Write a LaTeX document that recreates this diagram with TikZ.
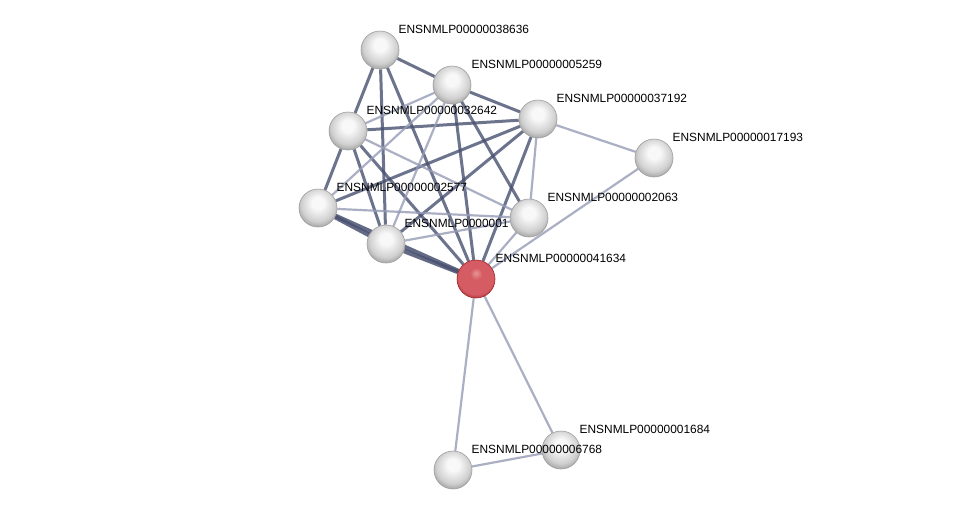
\documentclass[tikz,border=0pt]{standalone}
\usepackage{fontspec}
\setmainfont{Liberation Sans}
\usetikzlibrary{backgrounds}

\definecolor{edgedark}{RGB}{72,80,112}
\definecolor{edgelight}{RGB}{150,156,182}
\definecolor{ballhi}{RGB}{248,248,248}
\definecolor{ballmid}{RGB}{208,208,208}
\definecolor{ballrim}{RGB}{150,150,150}
\definecolor{redhi}{RGB}{232,150,152}
\definecolor{redmid}{RGB}{212,92,98}
\definecolor{redrim}{RGB}{160,35,40}

\pgfdeclareradialshading{protball}{\pgfpoint{0bp}{8bp}}{%
  color(0bp)=(ballhi); color(8bp)=(ballhi); color(22bp)=(ballmid);
  color(31bp)=(ballrim); color(50bp)=(ballrim)}
\pgfdeclareradialshading{queryball}{\pgfpoint{0bp}{8bp}}{%
  color(0bp)=(redhi); color(8bp)=(redmid); color(24bp)=(redmid);
  color(32bp)=(redrim); color(50bp)=(redrim)}

\begin{document}
\begin{tikzpicture}[x=1pt, y=-1pt,
    prot/.style={circle, minimum size=38pt, inner sep=0pt, shading=protball, draw=gray!75, line width=0.6pt},
    query/.style={circle, minimum size=38pt, inner sep=0pt, shading=queryball, draw=redrim, line width=0.6pt},
    lbl/.style={anchor=base west, inner sep=0.5pt, font=\fontsize{11.9}{14}\selectfont},
    strong/.style={draw=edgedark, line width=4.5pt, opacity=0.85},
    mid/.style={draw=edgedark, line width=3pt, opacity=0.8},
    weak/.style={draw=edgelight, line width=2.2pt, opacity=0.8}]

  \useasboundingbox (0,0) rectangle (976,515);

  % Nodes
  \node[prot] (n38636) at (380,50) {};
  \node[prot] (n05259) at (452,85) {};
  \node[prot] (n37192) at (538,119) {};
  \node[prot] (n17193) at (654,158) {};
  \node[prot] (n32642) at (348,131) {};
  \node[prot] (n02577) at (318,208) {};
  \node[prot] (n00001) at (386,244) {};
  \node[prot] (n02063) at (529,218) {};
  \node[query] (n41634) at (476,279) {};
  \node[prot] (n01684) at (561,450) {};
  \node[prot] (n06768) at (453,470) {};

  % Edges
  \begin{scope}[on background layer]
    \fill[white] (0,0) rectangle (976,515);
    \draw[strong] (n02577) -- (n00001);
    \draw[strong] (n00001) -- (n41634);
    \draw[strong] (n02577) -- (n41634);
    \draw[mid] (n38636) -- (n32642);
    \draw[mid] (n38636) -- (n00001);
    \draw[mid] (n38636) -- (n41634);
    \draw[mid] (n38636) -- (n05259);
    \draw[mid] (n32642) -- (n02577);
    \draw[mid] (n32642) -- (n00001);
    \draw[mid] (n32642) -- (n41634);
    \draw[mid] (n32642) -- (n37192);
    \draw[mid] (n37192) -- (n41634);
    \draw[mid] (n37192) -- (n00001);
    \draw[mid] (n37192) -- (n02577);
    \draw[mid] (n05259) -- (n37192);
    \draw[mid] (n05259) -- (n41634);
    \draw[mid] (n05259) -- (n02063);
    \draw[weak] (n05259) -- (n32642);
    \draw[weak] (n05259) -- (n00001);
    \draw[weak] (n05259) -- (n02577);
    \draw[weak] (n32642) -- (n02063);
    \draw[weak] (n02577) -- (n02063);
    \draw[weak] (n00001) -- (n02063);
    \draw[weak] (n37192) -- (n02063);
    \draw[weak] (n02063) -- (n41634);
    \draw[weak] (n37192) -- (n17193);
    \draw[weak] (n17193) -- (n41634);
    \draw[weak] (n41634) -- (n01684);
    \draw[weak] (n41634) -- (n06768);
    \draw[weak] (n01684) -- (n06768);
  \end{scope}

  % Labels
  \node[lbl] (t38636) at (398,33) {ENSNMLP00000038636};
  \node[lbl] (t05259) at (471,68) {ENSNMLP00000005259};
  \node[lbl] (t37192) at (556,102) {ENSNMLP00000037192};
  \node[lbl] (t17193) at (672,141) {ENSNMLP00000017193};
  \node[lbl] (t32642) at (366,114) {ENSNMLP00000032642};
  \node[lbl] (t02577) at (336,191) {ENSNMLP00000002577};
  \node[lbl] (t00001) at (404,227) {ENSNMLP0000001};
  \node[lbl] (t02063) at (547,201) {ENSNMLP00000002063};
  \node[lbl] (t41634) at (495,262) {ENSNMLP00000041634};
  \node[lbl] (t01684) at (579,433) {ENSNMLP00000001684};
  \node[lbl] (t06768) at (471,453) {ENSNMLP00000006768};
\end{tikzpicture}
\end{document}
